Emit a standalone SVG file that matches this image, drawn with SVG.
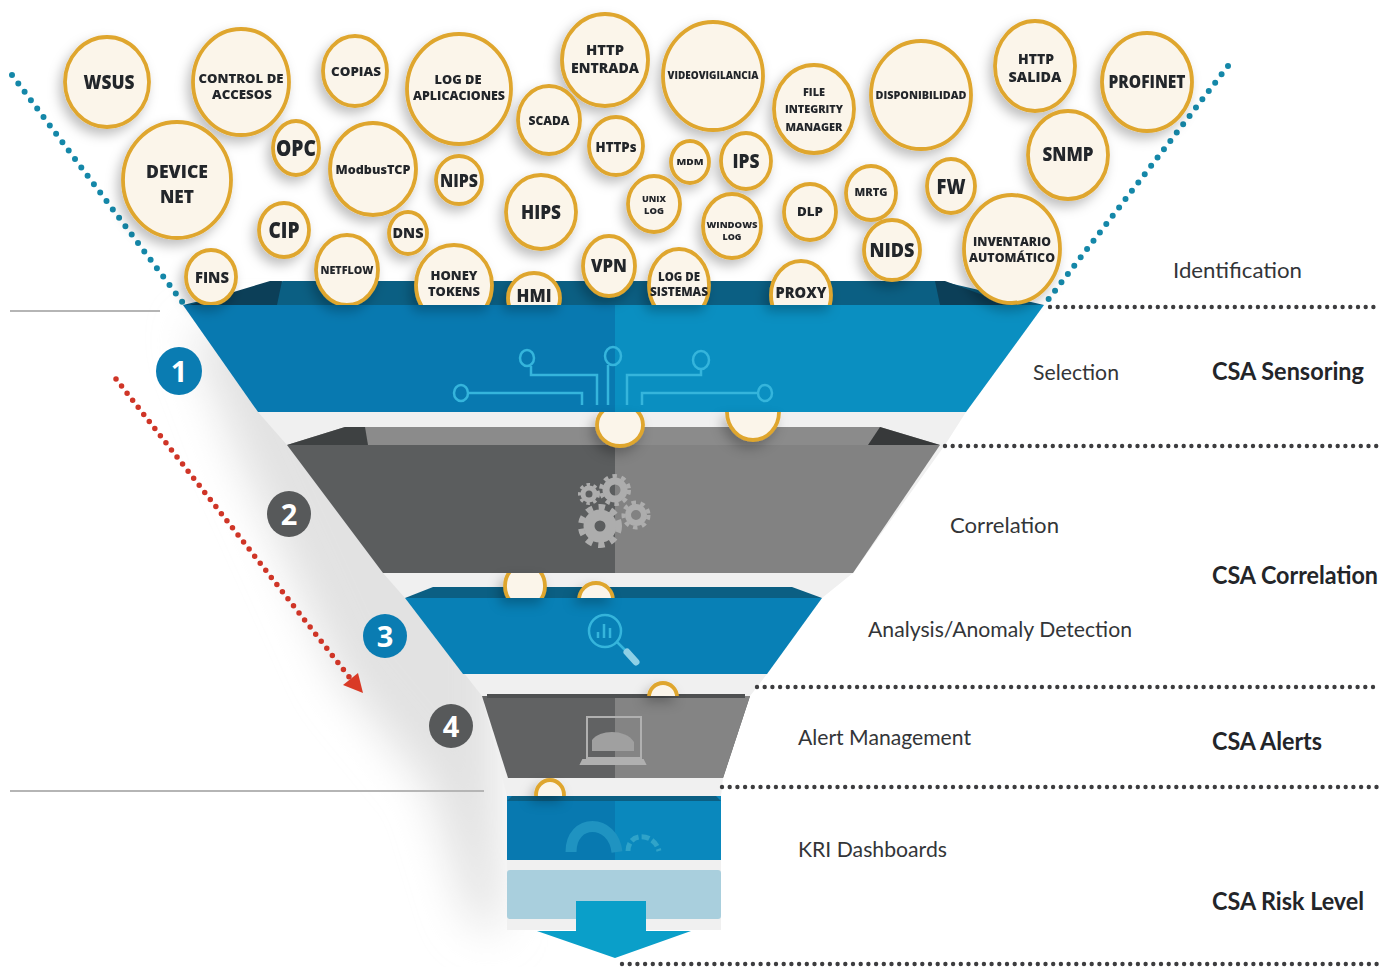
<svg xmlns="http://www.w3.org/2000/svg" width="1394" height="967" viewBox="0 0 1394 967">
<style>
.b{fill:#fbf5ea;stroke:#dfa62e;stroke-width:3.8}
.t{font-family:"Open Sans","Liberation Sans",sans-serif;font-weight:800;fill:#24262b;text-anchor:middle}
.l{font-family:Lato,"Liberation Sans",sans-serif;font-size:22px;fill:#333538}
.h{font-family:Lato,"Liberation Sans",sans-serif;font-size:24px;font-weight:700;fill:#232529}
.n{font-family:"Open Sans","Liberation Sans",sans-serif;font-size:29px;font-weight:700;fill:#fff;text-anchor:middle}
.ic{fill:none;stroke:#35b5dc;stroke-width:2.5}
.gr{fill:none;stroke:#adadad}
</style>
<defs>
<filter id="ds" x="-30%" y="-30%" width="160%" height="160%"><feDropShadow dx="-4" dy="6" stdDeviation="6" flood-color="#000" flood-opacity=".25"/></filter>
<filter id="bl" x="-30%" y="-20%" width="160%" height="140%"><feGaussianBlur stdDeviation="22"/></filter>
<clipPath id="c1"><rect x="0" y="0" width="1394" height="305"/></clipPath>
<clipPath id="c2"><rect x="500" y="412" width="400" height="60"/></clipPath>
<clipPath id="c3"><rect x="400" y="573" width="400" height="25"/></clipPath>
<clipPath id="c4"><rect x="500" y="675" width="300" height="21"/></clipPath>
<clipPath id="c5"><rect x="500" y="775" width="100" height="21"/></clipPath>
</defs>
<rect width="1394" height="967" fill="#fff"/>
<g id="shadow">
<polygon points="190,330 500,330 500,935 470,920 430,790 340,680 240,460" fill="#e2e2e2" filter="url(#bl)"/>
<polygon points="183,305 1044,305 966,412 945,445 853,573 822,598 767,674 750,696 723,778 721,796 721,930 507,930 507,796 482,696 405,598 383,573 287,445 258,412" fill="#f0f0f0"/>
</g>
<g id="connectors" fill="none">
<path d="M12 75 183 303" stroke="#1487a8" stroke-width="6" stroke-linecap="round" stroke-dasharray="0 10.5"/>
<path d="M1228 66 1044 305" stroke="#1487a8" stroke-width="6" stroke-linecap="round" stroke-dasharray="0 10.5"/>
<g stroke="#3d3d3f" stroke-width="4.4" stroke-linecap="round" stroke-dasharray="0 7.7">
<path d="M1050 307H1378"/><path d="M945 446H1378"/><path d="M757 687H1378"/><path d="M722 787H1378"/><path d="M622 964H1378"/>
</g>
<path d="M10 311H160M10 791H484" stroke="#b5b5b5" stroke-width="2"/>
<path d="M116 379 350 678" stroke="#cf3527" stroke-width="5.5" stroke-linecap="round" stroke-dasharray="0 9"/>
<polygon points="343,685 358,673 363,693" fill="#d93a26" stroke="none"/>
</g>
<g id="layer-1">
<polygon points="283,281 940,281 1044,305 183,305" fill="#0b5f83"/>
<polygon points="207,300 270,281 282,281 277,305 190,305" fill="#0c3f58"/>
<polygon points="945,281 1010,305 940,305 935,281" fill="#0c3f58"/>
<polygon points="183,305 615,305 615,412 258,412" fill="#0879b0"/>
<polygon points="615,305 1044,305 966,412 615,412" fill="#0a8fc1"/>
<g class="ic">
<ellipse cx="527" cy="358" rx="7" ry="8"/><ellipse cx="613" cy="356" rx="8" ry="9"/><ellipse cx="701" cy="360" rx="8" ry="9"/>
<ellipse cx="461" cy="393" rx="7" ry="8"/><ellipse cx="765" cy="393" rx="7" ry="8"/>
<path d="M531 366V375H597V405M608 365V405M627 405V375H701V368M469 393H582V405M757 393H642V405"/>
</g>
</g>
<g id="layer-2">
<polygon points="345,427 880,427 940,445 287,445" fill="#8b8b8b"/>
<polygon points="287,445 345,427 365,427 368,445" fill="#3e4142"/>
<polygon points="940,445 880,427 868,445" fill="#37393a"/>
<polygon points="287,445 615,445 615,573 383,573" fill="#5b5d5e"/>
<polygon points="615,445 940,445 853,573 615,573" fill="#828282"/>
<g class="gr">
<circle cx="589" cy="494" r="6" stroke-width="5"/><circle cx="589" cy="494" r="9.5" stroke-width="3" stroke-dasharray="3.5 3.5"/>
<circle cx="615" cy="490" r="9" stroke-width="7"/><circle cx="615" cy="490" r="14" stroke-width="4" stroke-dasharray="4.5 4.5"/>
<circle cx="636" cy="515" r="8" stroke-width="6"/><circle cx="636" cy="515" r="12.5" stroke-width="4" stroke-dasharray="4.5 4.5"/>
<circle cx="600" cy="526" r="11" stroke-width="11"/><circle cx="600" cy="526" r="19" stroke-width="6" stroke-dasharray="6.5 6"/>
</g>
</g>
<g id="layer-3">
<polygon points="433,587 792,587 822,598 405,598" fill="#0b5f83"/>
<polygon points="405,598 822,598 767,674 463,674" fill="#0880b6"/>
<g class="ic">
<circle cx="605" cy="631" r="16"/>
<path d="M598 638V632M604 638V624M610 638V628M617 642 626 651"/>
<path d="M627 652 636 662" stroke="#8ed0e6" stroke-width="7" stroke-linecap="round"/>
</g>
</g>
<g id="layer-4">
<polygon points="482,696 750,696 723,778 615,778 508,778" fill="#616263"/>
<polygon points="615,696 750,696 723,778 615,778" fill="#848484"/>
<rect x="487" y="694" width="258" height="4" fill="#4e5051"/>
<g fill="none" stroke="#b0b0b0" stroke-width="2">
<rect x="587" y="717" width="54" height="41"/>
<path d="M583 760H643L645 764H581Z" fill="#b0b0b0"/>
<path d="M592 740C600 729 626 729 634 742V751H592Z" fill="#a0a0a0" stroke="none"/>
</g>
</g>
<g id="layer-5">
<polygon points="507,796 721,796 721,860 507,860" fill="#0879b0"/>
<rect x="615" y="796" width="106" height="64" fill="#0a88bd"/>
<polygon points="512,796 716,796 721,801 507,801" fill="#0b5f83"/>
<path d="M571 852C571 818 613 818 617 852" fill="none" stroke="#1f93c1" stroke-width="11"/>
<path d="M628 851C628 832 654 832 659 851" fill="none" stroke="#2fa3c9" stroke-width="5" stroke-dasharray="8 3"/>
</g>
<g id="layer-6">
<rect x="507" y="870" width="214" height="49" rx="3" fill="#a9cfdd"/>
<polygon points="576,901 646,901 646,931 691,931 615,958 537,931 576,931" fill="#0a9fc9"/>
</g>
<g id="badge-1"><ellipse cx="179" cy="371" rx="23" ry="24" fill="#0a7cb2"/><text class="n" x="179" y="382">1</text></g>
<g id="badge-2"><ellipse cx="289" cy="514" rx="22" ry="23" fill="#57595a"/><text class="n" x="289" y="525">2</text></g>
<g id="badge-3"><circle cx="385" cy="636" r="22" fill="#0a7cb2"/><text class="n" x="385" y="647">3</text></g>
<g id="badge-4"><circle cx="451" cy="726" r="22" fill="#57595a"/><text class="n" x="451" y="737">4</text></g>
<g id="bubbles-between" filter="url(#ds)">
<g clip-path="url(#c2)"><ellipse cx="620" cy="425" rx="23" ry="21" class="b"/><ellipse cx="753" cy="412" rx="26" ry="28" class="b"/></g>
<g clip-path="url(#c3)"><ellipse cx="525" cy="586" rx="20" ry="22" class="b"/><ellipse cx="596" cy="600" rx="17" ry="17" class="b"/></g>
<g clip-path="url(#c4)"><ellipse cx="663" cy="697" rx="14" ry="14" class="b"/></g>
<g clip-path="url(#c5)"><ellipse cx="550" cy="795" rx="14" ry="15" class="b"/></g>
</g>
<g filter="url(#ds)">
<g id="n-wsus"><ellipse cx="107" cy="82" rx="42" ry="45" class="b"/><text class="t" x="109" y="89" font-size="20" textLength="51" lengthAdjust="spacingAndGlyphs">WSUS</text></g>
<g id="n-control"><ellipse cx="241" cy="82" rx="48" ry="53" class="b"/><text class="t" x="241" y="83" font-size="13" textLength="85" lengthAdjust="spacingAndGlyphs">CONTROL DE</text><text class="t" x="242" y="99" font-size="13" textLength="60" lengthAdjust="spacingAndGlyphs">ACCESOS</text></g>
<g id="n-copias"><ellipse cx="355" cy="71" rx="32" ry="35" class="b"/><text class="t" x="356" y="76" font-size="13" textLength="50" lengthAdjust="spacingAndGlyphs">COPIAS</text></g>
<g id="n-logapp"><ellipse cx="459" cy="89" rx="52" ry="55" class="b"/><text class="t" x="458" y="84" font-size="13" textLength="47" lengthAdjust="spacingAndGlyphs">LOG DE</text><text class="t" x="459" y="100" font-size="13" textLength="92" lengthAdjust="spacingAndGlyphs">APLICACIONES</text></g>
<g id="n-httpin"><ellipse cx="605" cy="60" rx="43" ry="46" class="b"/><text class="t" x="605" y="55" font-size="14.5" textLength="38" lengthAdjust="spacingAndGlyphs">HTTP</text><text class="t" x="605" y="73" font-size="14.5" textLength="68" lengthAdjust="spacingAndGlyphs">ENTRADA</text></g>
<g id="n-video"><ellipse cx="713" cy="76" rx="50" ry="54" class="b"/><text class="t" x="713" y="79" font-size="10" textLength="91" lengthAdjust="spacingAndGlyphs">VIDEOVIGILANCIA</text></g>
<g id="n-fim"><ellipse cx="814" cy="109" rx="40" ry="44" class="b"/><text class="t" x="814" y="96" font-size="10" textLength="22" lengthAdjust="spacingAndGlyphs">FILE</text><text class="t" x="814" y="113" font-size="10" textLength="58" lengthAdjust="spacingAndGlyphs">INTEGRITY</text><text class="t" x="814" y="131" font-size="10" textLength="57" lengthAdjust="spacingAndGlyphs">MANAGER</text></g>
<g id="n-disp"><ellipse cx="921" cy="95" rx="50" ry="54" class="b"/><text class="t" x="921" y="99" font-size="10.5" textLength="91" lengthAdjust="spacingAndGlyphs">DISPONIBILIDAD</text></g>
<g id="n-httpout"><ellipse cx="1035" cy="66" rx="40" ry="45" class="b"/><text class="t" x="1036" y="64" font-size="14" textLength="36" lengthAdjust="spacingAndGlyphs">HTTP</text><text class="t" x="1035" y="82" font-size="14" textLength="53" lengthAdjust="spacingAndGlyphs">SALIDA</text></g>
<g id="n-profinet"><ellipse cx="1147" cy="82" rx="45" ry="49" class="b"/><text class="t" x="1147" y="88" font-size="18" textLength="77" lengthAdjust="spacingAndGlyphs">PROFINET</text></g>
<g id="n-snmp"><ellipse cx="1068" cy="155" rx="40" ry="44" class="b"/><text class="t" x="1068" y="161" font-size="19" textLength="51" lengthAdjust="spacingAndGlyphs">SNMP</text></g>
<g id="n-scada"><ellipse cx="549" cy="120" rx="31" ry="34" class="b"/><text class="t" x="549" y="125" font-size="12" textLength="41" lengthAdjust="spacingAndGlyphs">SCADA</text></g>
<g id="n-https"><ellipse cx="616" cy="146" rx="27" ry="29" class="b"/><text class="t" x="616" y="152" font-size="14" textLength="41" lengthAdjust="spacingAndGlyphs">HTTPs</text></g>
<g id="n-device"><ellipse cx="177" cy="180" rx="54" ry="58" class="b"/><text class="t" x="177" y="178" font-size="18" textLength="62" lengthAdjust="spacingAndGlyphs">DEVICE</text><text class="t" x="177" y="203" font-size="18" textLength="34" lengthAdjust="spacingAndGlyphs">NET</text></g>
<g id="n-opc"><ellipse cx="296" cy="148" rx="23" ry="27" class="b"/><text class="t" x="296" y="156" font-size="22" textLength="40" lengthAdjust="spacingAndGlyphs">OPC</text></g>
<g id="n-modbus"><ellipse cx="373" cy="169" rx="43" ry="46" class="b"/><text class="t" x="373" y="174" font-size="12" textLength="75" lengthAdjust="spacingAndGlyphs">ModbusTCP</text></g>
<g id="n-nips"><ellipse cx="459" cy="180" rx="23" ry="24" class="b"/><text class="t" x="459" y="187" font-size="17" textLength="38" lengthAdjust="spacingAndGlyphs">NIPS</text></g>
<g id="n-mdm"><ellipse cx="690" cy="162" rx="19" ry="21" class="b"/><text class="t" x="690" y="165" font-size="9" textLength="27" lengthAdjust="spacingAndGlyphs">MDM</text></g>
<g id="n-ips"><ellipse cx="746" cy="161" rx="25" ry="28" class="b"/><text class="t" x="746" y="168" font-size="19" textLength="27" lengthAdjust="spacingAndGlyphs">IPS</text></g>
<g id="n-unix"><ellipse cx="654" cy="204" rx="26" ry="28" class="b"/><text class="t" x="654" y="202" font-size="8" textLength="24" lengthAdjust="spacingAndGlyphs">UNIX</text><text class="t" x="654" y="214" font-size="8" textLength="20" lengthAdjust="spacingAndGlyphs">LOG</text></g>
<g id="n-hips"><ellipse cx="541" cy="212" rx="35" ry="37" class="b"/><text class="t" x="541" y="219" font-size="20" textLength="40" lengthAdjust="spacingAndGlyphs">HIPS</text></g>
<g id="n-cip"><ellipse cx="284" cy="230" rx="25" ry="27" class="b"/><text class="t" x="284" y="238" font-size="22" textLength="31" lengthAdjust="spacingAndGlyphs">CIP</text></g>
<g id="n-dns"><ellipse cx="408" cy="233" rx="19" ry="21" class="b"/><text class="t" x="408" y="238" font-size="14" textLength="31" lengthAdjust="spacingAndGlyphs">DNS</text></g>
<g id="n-windows"><ellipse cx="732" cy="226" rx="29" ry="32" class="b"/><text class="t" x="732" y="228" font-size="9.5" textLength="51" lengthAdjust="spacingAndGlyphs">WINDOWS</text><text class="t" x="732" y="240" font-size="9.5" textLength="19" lengthAdjust="spacingAndGlyphs">LOG</text></g>
<g id="n-dlp"><ellipse cx="810" cy="212" rx="26" ry="28" class="b"/><text class="t" x="810" y="216" font-size="12" textLength="26" lengthAdjust="spacingAndGlyphs">DLP</text></g>
<g id="n-mrtg"><ellipse cx="871" cy="193" rx="25" ry="27" class="b"/><text class="t" x="871" y="196" font-size="10" textLength="33" lengthAdjust="spacingAndGlyphs">MRTG</text></g>
<g id="n-fw"><ellipse cx="951" cy="186" rx="24" ry="27" class="b"/><text class="t" x="951" y="194" font-size="21" textLength="29" lengthAdjust="spacingAndGlyphs">FW</text></g>
<g id="n-nids"><ellipse cx="892" cy="250" rx="28" ry="30" class="b"/><text class="t" x="892" y="257" font-size="19" textLength="45" lengthAdjust="spacingAndGlyphs">NIDS</text></g>
<g id="n-inv"><ellipse cx="1012" cy="249" rx="48" ry="54" class="b"/><text class="t" x="1012" y="246" font-size="12" textLength="78" lengthAdjust="spacingAndGlyphs">INVENTARIO</text><text class="t" x="1012" y="262" font-size="12" textLength="86" lengthAdjust="spacingAndGlyphs">AUTOMÁTICO</text></g>
<g id="n-fins" clip-path="url(#c1)"><ellipse cx="211" cy="277" rx="25" ry="27" class="b"/><text class="t" x="212" y="283" font-size="16" textLength="34" lengthAdjust="spacingAndGlyphs">FINS</text></g>
<g id="n-netflow" clip-path="url(#c1)"><ellipse cx="347" cy="270" rx="31" ry="35" class="b"/><text class="t" x="347" y="274" font-size="11" textLength="53" lengthAdjust="spacingAndGlyphs">NETFLOW</text></g>
<g id="n-honey" clip-path="url(#c1)"><ellipse cx="454" cy="285" rx="38" ry="40" class="b"/><text class="t" x="454" y="280" font-size="13" textLength="47" lengthAdjust="spacingAndGlyphs">HONEY</text><text class="t" x="454" y="296" font-size="13" textLength="52" lengthAdjust="spacingAndGlyphs">TOKENS</text></g>
<g id="n-hmi" clip-path="url(#c1)"><ellipse cx="534" cy="298" rx="26" ry="25" class="b"/><text class="t" x="534" y="302" font-size="18" textLength="35" lengthAdjust="spacingAndGlyphs">HMI</text></g>
<g id="n-vpn"><ellipse cx="609" cy="266" rx="26" ry="30" class="b"/><text class="t" x="609" y="272" font-size="18" textLength="36" lengthAdjust="spacingAndGlyphs">VPN</text></g>
<g id="n-logsis" clip-path="url(#c1)"><ellipse cx="679" cy="285" rx="30" ry="36" class="b"/><text class="t" x="679" y="281" font-size="11.5" textLength="42" lengthAdjust="spacingAndGlyphs">LOG DE</text><text class="t" x="679" y="296" font-size="11.5" textLength="58" lengthAdjust="spacingAndGlyphs">SISTEMAS</text></g>
<g id="n-proxy" clip-path="url(#c1)"><ellipse cx="801" cy="295" rx="30" ry="34" class="b"/><text class="t" x="801" y="298" font-size="16" textLength="51" lengthAdjust="spacingAndGlyphs">PROXY</text></g>
</g>
<g id="labels">
<text class="l" x="1173" y="278" textLength="129" lengthAdjust="spacingAndGlyphs">Identification</text>
<text class="l" x="1033" y="380" textLength="86" lengthAdjust="spacingAndGlyphs">Selection</text>
<text class="l" x="950" y="533" textLength="109" lengthAdjust="spacingAndGlyphs">Correlation</text>
<text class="l" x="868" y="637" textLength="264" lengthAdjust="spacingAndGlyphs">Analysis/Anomaly Detection</text>
<text class="l" x="798" y="745" textLength="173" lengthAdjust="spacingAndGlyphs">Alert Management</text>
<text class="l" x="798" y="857" textLength="149" lengthAdjust="spacingAndGlyphs">KRI Dashboards</text>
<text class="h" x="1212" y="380" textLength="152" lengthAdjust="spacingAndGlyphs">CSA Sensoring</text>
<text class="h" x="1212" y="584" textLength="166" lengthAdjust="spacingAndGlyphs">CSA Correlation</text>
<text class="h" x="1212" y="750" textLength="110" lengthAdjust="spacingAndGlyphs">CSA Alerts</text>
<text class="h" x="1212" y="910" textLength="152" lengthAdjust="spacingAndGlyphs">CSA Risk Level</text>
</g>
</svg>
